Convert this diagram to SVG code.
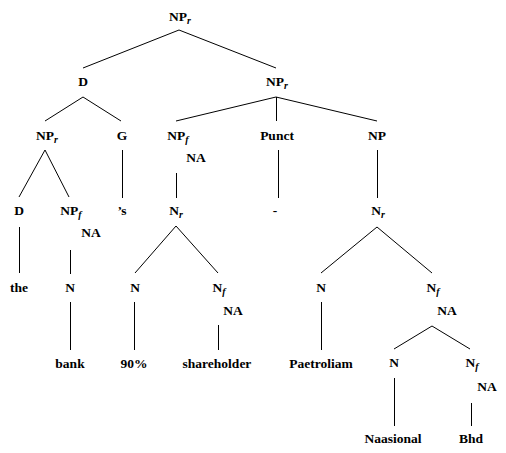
<svg xmlns="http://www.w3.org/2000/svg" width="506" height="453" viewBox="0 0 506 453">
<style>
  text { font-family: "Liberation Serif", "Times New Roman", serif; font-weight: bold; font-size: 13.5px; fill: #000; text-anchor: middle; }
  .sub { font-style: italic; font-size: 10px; }
  #connectors line { stroke: #000; stroke-width: 1; fill: none; }
</style>
<rect x="0" y="0" width="506" height="453" fill="#fff"/>
<g id="connectors">
  <line x1="179" y1="30" x2="83" y2="68"/>
  <line x1="179" y1="30" x2="276" y2="68"/>
  <line x1="83" y1="97" x2="45" y2="121"/>
  <line x1="83" y1="97" x2="121" y2="121"/>
  <line x1="276" y1="97" x2="176" y2="121"/>
  <line x1="276.5" y1="97" x2="276.5" y2="121"/>
  <line x1="276" y1="97" x2="377" y2="121"/>
  <line x1="45" y1="150" x2="19" y2="197"/>
  <line x1="45" y1="150" x2="69" y2="197"/>
  <line x1="122.5" y1="150" x2="122.5" y2="198"/>
  <line x1="176.5" y1="173" x2="176.5" y2="198"/>
  <line x1="278.5" y1="150" x2="278.5" y2="198"/>
  <line x1="377.5" y1="150" x2="377.5" y2="198"/>
  <line x1="19.5" y1="227" x2="19.5" y2="273"/>
  <line x1="70.5" y1="250" x2="70.5" y2="274"/>
  <line x1="176" y1="226" x2="135" y2="273"/>
  <line x1="176" y1="226" x2="218" y2="273"/>
  <line x1="377" y1="227" x2="321" y2="273"/>
  <line x1="377" y1="227" x2="432" y2="273"/>
  <line x1="70.5" y1="302" x2="70.5" y2="350"/>
  <line x1="134.5" y1="302" x2="134.5" y2="350"/>
  <line x1="218.5" y1="325" x2="218.5" y2="350"/>
  <line x1="321.5" y1="302" x2="321.5" y2="350"/>
  <line x1="432" y1="326" x2="394" y2="349"/>
  <line x1="432" y1="326" x2="470" y2="349"/>
  <line x1="394.5" y1="378" x2="394.5" y2="426"/>
  <line x1="471.5" y1="403" x2="471.5" y2="426"/>
</g>
<g id="n0"><text x="180" y="21">NP<tspan class="sub" dy="3">r</tspan></text></g>
<g id="n1"><text x="83" y="86">D</text></g>
<g id="n2"><text x="277" y="86">NP<tspan class="sub" dy="3">r</tspan></text></g>
<g id="n3"><text x="47" y="140">NP<tspan class="sub" dy="3">r</tspan></text></g>
<g id="n4"><text x="122" y="140">G</text></g>
<g id="n5"><text x="178" y="140">NP<tspan class="sub" dy="3">f</tspan></text><text x="196" y="162">NA</text></g>
<g id="n6"><text x="277" y="140">Punct</text></g>
<g id="n7"><text x="377" y="140">NP</text></g>
<g id="n8"><text x="19" y="215">D</text></g>
<g id="n9"><text x="71" y="215">NP<tspan class="sub" dy="3">f</tspan></text><text x="91" y="237">NA</text></g>
<g id="n10"><text x="122" y="215">’s</text></g>
<g id="n11"><text x="176" y="215">N<tspan class="sub" dy="3">r</tspan></text></g>
<g id="n12"><text x="275" y="215">-</text></g>
<g id="n13"><text x="378" y="215">N<tspan class="sub" dy="3">r</tspan></text></g>
<g id="n14"><text x="19" y="292">the</text></g>
<g id="n15"><text x="70" y="292">N</text></g>
<g id="n16"><text x="135" y="292">N</text></g>
<g id="n17"><text x="219" y="292">N<tspan class="sub" dy="3">f</tspan></text><text x="233" y="315">NA</text></g>
<g id="n18"><text x="321" y="292">N</text></g>
<g id="n19"><text x="433" y="292">N<tspan class="sub" dy="3">f</tspan></text><text x="447" y="315">NA</text></g>
<g id="n20"><text x="70" y="368">bank</text></g>
<g id="n21"><text x="134" y="368">90%</text></g>
<g id="n22"><text x="217" y="368">shareholder</text></g>
<g id="n23"><text x="321" y="368">Paetroliam</text></g>
<g id="n24"><text x="394" y="367">N</text></g>
<g id="n25"><text x="472" y="367">N<tspan class="sub" dy="3">f</tspan></text><text x="487" y="391">NA</text></g>
<g id="n26"><text x="393" y="443">Naasional</text></g>
<g id="n27"><text x="471" y="443">Bhd</text></g>
</svg>
